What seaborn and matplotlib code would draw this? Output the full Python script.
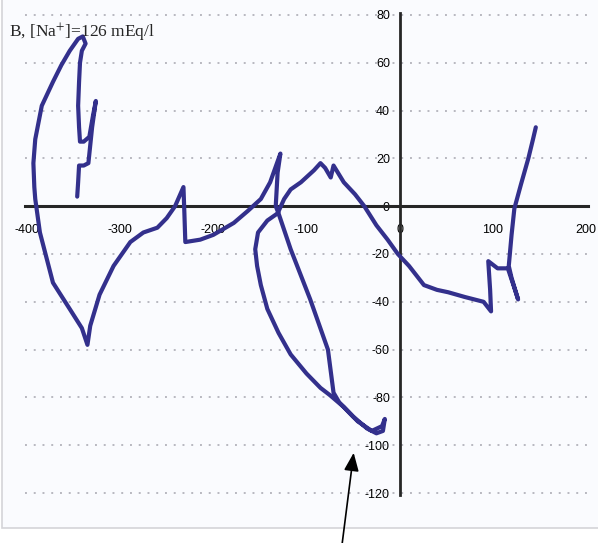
import pandas as pd
import numpy as np
import matplotlib
matplotlib.use("Agg")
import matplotlib.pyplot as plt
import seaborn as sns
from matplotlib.patches import Rectangle

# traced loop (x, y in mV-ish units)
loop_x = [-346, -345, -344, -339, -334, -330, -326, -329, -333, -339, -343, -344, -345, -344,
          -343, -341, -337, -340, -345, -354, -363, -372, -384, -391, -393, -392, -391, -386,
          -372, -354, -341, -335, -332, -322, -307, -289, -275, -260, -250, -241, -232, -231,
          -230, -214, -200, -178, -163, -149, -139, -128, -131, -133, -130, -117, -96, -77,
          -71, -65, -50, -35, -25, -18, -16, -19, -30, -45, -60, -75, -85, -100, -117, -130,
          -142, -149, -153, -155, -152, -142, -131, -124, -117, -106, -92, -85, -80, -74, -71,
          -60, -48, -38, -25, -13, -2, 10, 26, 40, 52, 70, 90, 98, 97, 95, 105, 116, 122, 127,
          120, 117, 120, 123, 130, 138, 143, 146]
loop_y = [4, 10, 17, 17, 18, 33, 44, 38, 29, 27, 27, 33, 42, 52,
          60, 65, 68, 71, 70, 65, 59, 52, 42, 28, 18, 8, 3, -11,
          -32, -43, -51, -58, -50, -37, -25, -15, -11, -9, -5, 0, 8, -3,
          -15, -14, -12, -7, -2, 3, 10, 22, 14, 0, -3, -18, -39, -60,
          -78, -82, -88, -93, -95, -94, -89, -92, -94, -90, -84, -79, -76, -70, -62, -53,
          -43, -33, -25, -18, -11, -6, -3, 3, 7, 10, 15, 18, 16, 12, 17,
          10, 5, 0, -8, -14, -20, -25, -33, -35, -36, -38, -40, -44, -35, -23, -26, -26, -33, -39,
          -30, -25, -12, -1, 9, 20, 28, 33]

x_ticks = [-400, -300, -200, -100, 0, 100, 200]
y_ticks = [-120, -100, -80, -60, -40, -20, 0, 20, 40, 60, 80]
title_text = "B, [Na$^{+}$]=126 mEq/l"

sns.set_style("white")
plt.rcParams["font.family"] = ["Liberation Sans", "DejaVu Sans"]
plt.rcParams["axes.unicode_minus"] = False
plt.rcParams["mathtext.fontset"] = "stix"

df = pd.DataFrame({"x": loop_x, "y": loop_y, "step": np.arange(len(loop_x))})

fig = plt.figure(figsize=(5.98, 5.43), dpi=100)
fig.patch.set_facecolor("white")
# light panel behind the chart
panel = Rectangle((0.003, 0.028), 1.2, 1.2, transform=fig.transFigure,
                  facecolor="#fafbfe", edgecolor="#d4d4d8", lw=1.2, zorder=-10)
fig.patches.append(panel)

ax = fig.add_axes([25 / 598, 1 - 495 / 543, 563 / 598, 482 / 543])
ax.set_facecolor("none")
ax.set_zorder(5)

# dotted gridlines
for yv in y_ticks:
    if yv != 0:
        ax.axhline(yv, color="#b8b8c0", lw=1.4, ls=(0, (1, 3.5)), zorder=1)

sns.lineplot(data=df, x="x", y="y", sort=False, estimator=None, color="#33308c",
             lw=3.0, ax=ax, zorder=3, solid_joinstyle="round", solid_capstyle="round")

ax.set_xlim(-402, 202)
ax.set_ylim(-120.8, 80.8)

for side in ["top", "right"]:
    ax.spines[side].set_visible(False)
ax.spines["left"].set_position(("data", 0))
ax.spines["bottom"].set_position(("data", 0))
ax.spines["left"].set_linewidth(2)
ax.spines["bottom"].set_linewidth(2.2)
ax.spines["left"].set_zorder(2)
ax.spines["bottom"].set_zorder(2)

ax.set_xticks(x_ticks)
ax.set_yticks(y_ticks)
ax.tick_params(axis="both", direction="out", length=4, width=2, labelsize=9,
               colors="black")
ax.tick_params(axis="x", pad=9)
ax.tick_params(axis="y", pad=3)
ax.set_xlabel("")
ax.set_ylabel("")

ax.text(0.015, 1 - 37 / 543, title_text, transform=fig.transFigure, fontsize=12.5,
        family="Liberation Serif", ha="left", va="baseline")

# arrow pointing at the loop bottom
ax.annotate("", xy=(-49, -102), xytext=(-63, -145), xycoords="data", textcoords="data",
            annotation_clip=False,
            arrowprops=dict(arrowstyle="-|>,head_length=1.1,head_width=0.45",
                            color="black", lw=1.2))

fig.savefig("out.png", dpi=100)
